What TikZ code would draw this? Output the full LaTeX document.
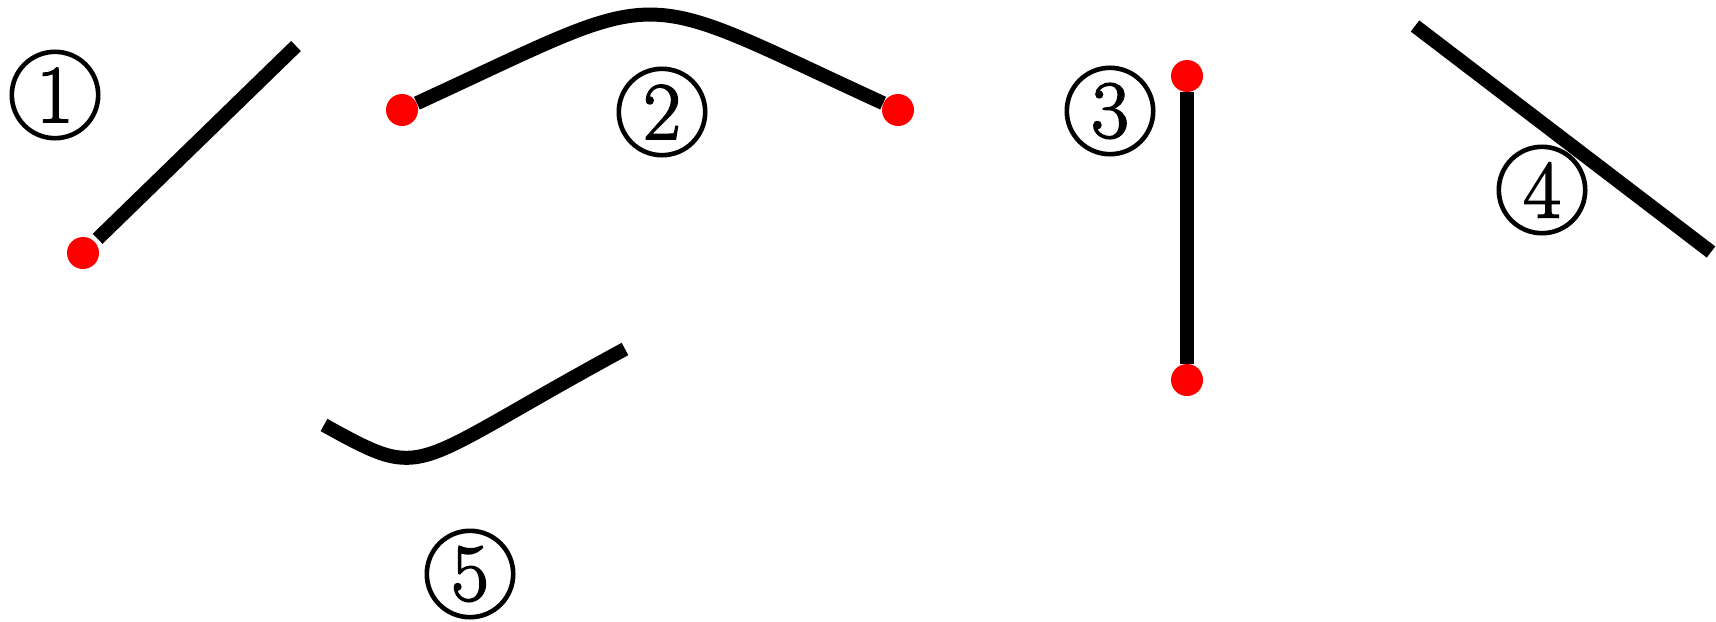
\documentclass[tikz,border=0pt]{standalone}
\usepackage{fontspec}
\newfontfamily\tagfont{Latin Modern Roman}[FakeBold=2]
\tikzset{
    seg/.style={
           line width=7pt,
           line cap=butt,
           },
    endpt/.style={
           circle,
           fill=red,
           draw=none,
           inner sep=0pt,
           minimum size=16pt,
           },
    tag/.style={
           circle,
           draw=black, line width=2.3pt,
           inner sep=0pt,
           minimum size=43.2pt,
           font=\tagfont\fontsize{41}{41}\selectfont,
           },
}
\newcommand{\tagnum}[1]{#1}

\begin{document}
\begin{tikzpicture}[x=0.5pt, y=-0.5pt]
  \useasboundingbox (0,0) rectangle (1716,621);
  % end points
  \node[endpt] (P1) at (  83, 253) {};
  \node[endpt] (L2) at ( 402, 110) {};
  \node[endpt] (R2) at ( 898, 110) {};
  \node[endpt] (T3) at (1187,  76) {};
  \node[endpt] (B3) at (1187, 380) {};
  \coordinate  (Q1) at ( 296,  46);
  \coordinate  (S4) at (1415,  26);
  \coordinate  (E4) at (1711, 252);
  \coordinate  (S5) at ( 324, 425);
  \coordinate  (E5) at ( 625, 349);
  % segments
  \draw[seg, shorten <=2pt] (P1) -- (Q1);
  \draw[seg] (L2) .. controls (674,-15) and (626,-15) .. (R2);
  \draw[seg] (T3) -- (B3);
  \draw[seg] (S4) -- (E4);
  \draw[seg] (S5) .. controls (429,483) and (405,468) .. (E5);
  % labels
  \node[tag] (N1) at (  55,  95) {\tagnum{1}};
  \node[tag] (N2) at ( 662, 112) {\tagnum{2}};
  \node[tag] (N3) at (1110, 111) {\tagnum{3}};
  \node[tag] (N4) at (1542, 190) {\tagnum{4}};
  \node[tag] (N5) at ( 470, 574) {\tagnum{5}};
\end{tikzpicture}
\end{document}
